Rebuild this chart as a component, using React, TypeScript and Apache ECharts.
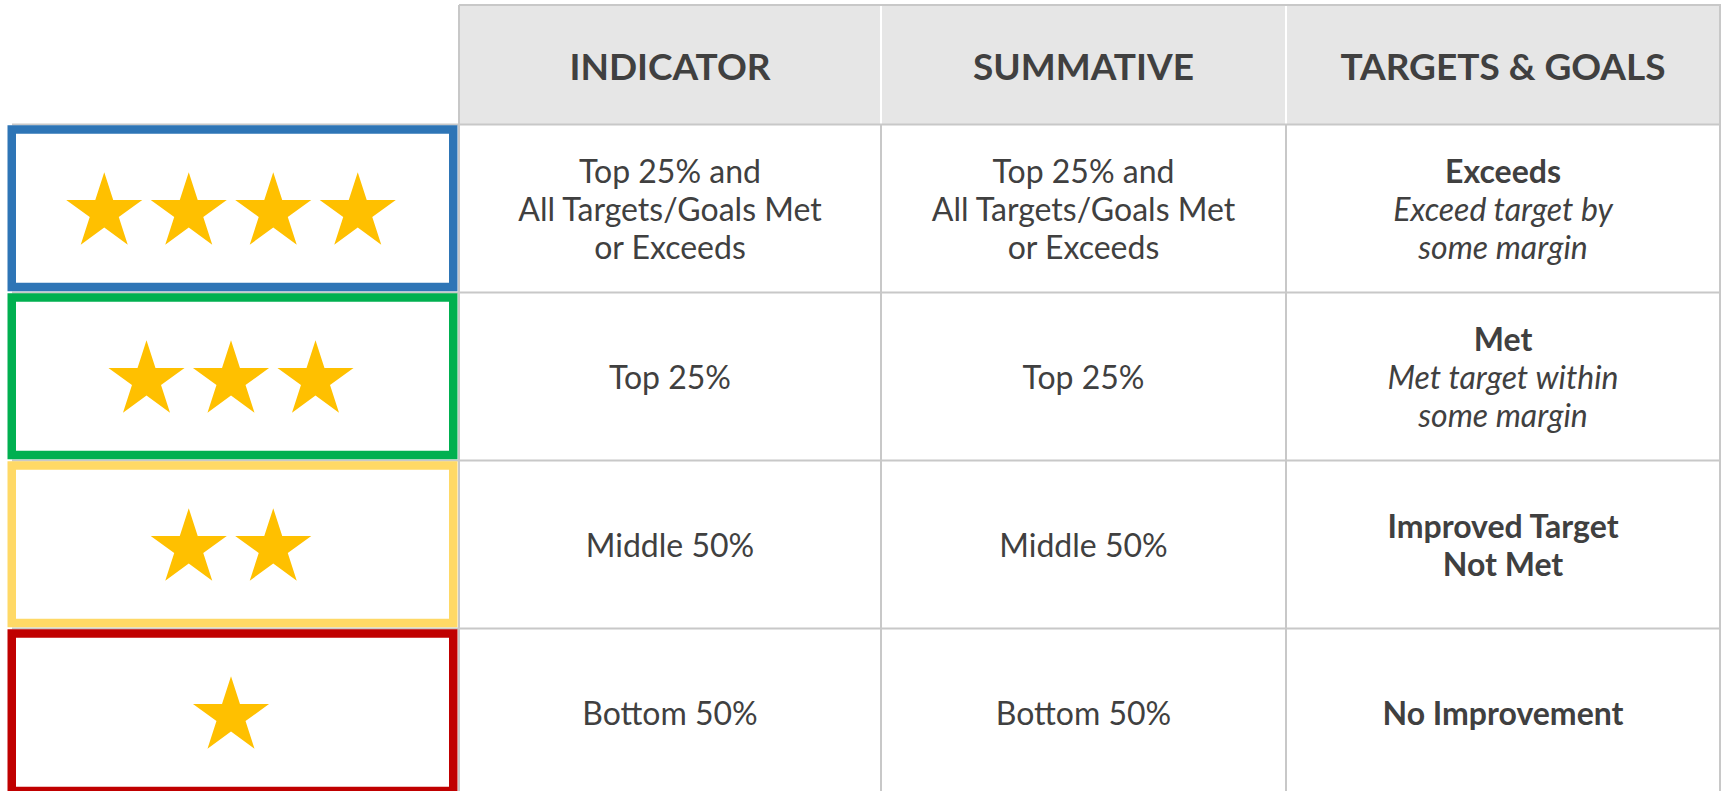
import React, { useEffect, useRef } from "react";
import * as echarts from "echarts";

const headers = ["INDICATOR", "SUMMATIVE", "TARGETS & GOALS"];
const starCounts = [4, 3, 2, 1];
const ratingColors = ["#2E75B6", "#00B050", "#FFD966", "#C00000"];
const indicatorTexts = ["Top 25% and\nAll Targets/Goals Met\nor Exceeds", "Top 25%", "Middle 50%", "Bottom 50%"];
const summativeTexts = ["Top 25% and\nAll Targets/Goals Met\nor Exceeds", "Top 25%", "Middle 50%", "Bottom 50%"];
const targetTitles = ["Exceeds", "Met", "Improved Target\nNot Met", "No Improvement"];
const targetNotes = ["Exceed target by\nsome margin", "Met target within\nsome margin", "", ""];

const TEXT = "#404040";
const GRID = "#C8C8C8";
const HEADER_BG = "#E6E6E6";
const STAR = "#FFC000";
const FONT = "Lato, 'Open Sans', sans-serif";

function starPoints(cx: number, cy: number, R: number): number[][] {
  const r = R * Math.cos((72 * Math.PI) / 180) / Math.cos((36 * Math.PI) / 180);
  const pts: number[][] = [];
  for (let k = 0; k < 10; k++) {
    const a = ((-90 + k * 36) * Math.PI) / 180;
    const rad = k % 2 === 0 ? R : r;
    pts.push([cx + rad * Math.cos(a), cy + rad * Math.sin(a)]);
  }
  return pts;
}

export default function App() {
  const ref = useRef<HTMLDivElement>(null);
  useEffect(() => {
    if (!ref.current) return;
    const chart = echarts.init(ref.current, null, { renderer: "svg" });
    const colX = [459, 881, 1286, 1720];
    const headTop = 5;
    const headBottom = 124.5;
    const rowH = 168;
    const H = 791;
    const els: any[] = [];

    els.push({
      type: "rect",
      shape: { x: colX[0], y: headTop, width: colX[3] - colX[0], height: headBottom - headTop },
      style: { fill: HEADER_BG },
      silent: true,
    });
    els.push({
      type: "line",
      shape: { x1: colX[0], y1: headTop, x2: colX[3] + 1, y2: headTop },
      style: { stroke: GRID, lineWidth: 2 },
    });
    [colX[1], colX[2]].forEach((x) =>
      els.push({
        type: "line",
        shape: { x1: x, y1: headTop + 1, x2: x, y2: headBottom },
        style: { stroke: "#FFFFFF", lineWidth: 2 },
      })
    );
    for (let i = 0; i < starCounts.length; i++) {
      const y = headBottom + i * rowH;
      els.push({
        type: "line",
        shape: { x1: 12, y1: y, x2: colX[3] + 1, y2: y },
        style: { stroke: GRID, lineWidth: 2 },
      });
    }
    els.push({ type: "line", shape: { x1: colX[0], y1: headTop, x2: colX[0], y2: H }, style: { stroke: GRID, lineWidth: 2 } });
    els.push({ type: "line", shape: { x1: colX[1], y1: headBottom, x2: colX[1], y2: H }, style: { stroke: GRID, lineWidth: 2 } });
    els.push({ type: "line", shape: { x1: colX[2], y1: headBottom, x2: colX[2], y2: H }, style: { stroke: GRID, lineWidth: 2 } });
    els.push({ type: "line", shape: { x1: colX[3], y1: headTop, x2: colX[3], y2: H }, style: { stroke: GRID, lineWidth: 2 } });

    headers.forEach((h, i) => {
      els.push({
        type: "text",
        style: {
          text: h,
          x: (colX[i] + colX[i + 1]) / 2,
          y: (headTop + headBottom) / 2 + 1,
          align: "center",
          verticalAlign: "middle",
          fill: TEXT,
          fontFamily: FONT,
          fontWeight: "bold",
          fontSize: 37,
        },
      });
    });

    starCounts.forEach((n, i) => {
      const top = headBottom + i * rowH;
      const cy = top + 84;
      const bw = 8.5;
      els.push({
        type: "rect",
        shape: { x: 7.5 + bw / 2, y: top + 0.8 + bw / 2, width: 450 - bw, height: 166 - bw },
        style: { fill: "#FFFFFF", stroke: ratingColors[i], lineWidth: bw },
      });
      const R = 40;
      const boxCx = 231;
      for (let s = 0; s < n; s++) {
        const sx = boxCx + (s - (n - 1) / 2) * 84.5;
        els.push({
          type: "polygon",
          shape: { points: starPoints(sx, cy + 0.0955 * R, R) },
          style: { fill: STAR },
        });
      }
      [indicatorTexts[i], summativeTexts[i]].forEach((t, c) => {
        els.push({
          type: "text",
          style: {
            text: t,
            x: (colX[c] + colX[c + 1]) / 2,
            y: cy,
            align: "center",
            verticalAlign: "middle",
            fill: TEXT,
            fontFamily: FONT,
            fontSize: 32,
            lineHeight: 38,
          },
        });
      });
      const titleLines = targetTitles[i].split("\n").map((l) => `{b|${l}}`);
      const noteLines = targetNotes[i] ? targetNotes[i].split("\n").map((l) => `{it|${l}}`) : [];
      els.push({
        type: "text",
        style: {
          text: titleLines.concat(noteLines).join("\n"),
          x: (colX[2] + colX[3]) / 2,
          y: cy,
          align: "center",
          verticalAlign: "middle",
          fill: TEXT,
          fontFamily: FONT,
          fontSize: 32,
          lineHeight: 38,
          rich: {
            b: { fontFamily: FONT, fontSize: 32, fontWeight: "bold", fill: TEXT, lineHeight: 38 },
            it: { fontFamily: FONT, fontSize: 32, fontStyle: "italic", fill: TEXT, lineHeight: 38 },
          },
        },
      });
    });

    chart.setOption({
      animation: false,
      graphic: { elements: els },
    });
    return () => chart.dispose();
  }, []);
  return (
    <div
      ref={ref}
      style={{ position: "fixed", left: 0, top: 0, width: 1721, height: 791, background: "#FFFFFF" }}
    />
  );
}
